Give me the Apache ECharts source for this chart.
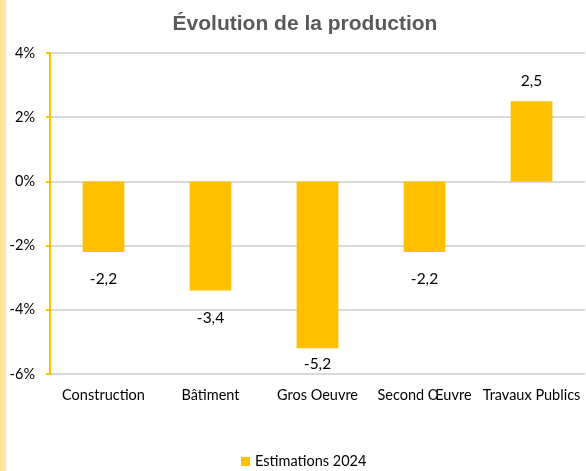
<!DOCTYPE html>
<html>
<head>
<meta charset="utf-8">
<script src="https://cdn.jsdelivr.net/npm/echarts@6/dist/echarts.min.js"></script>
<style>
  html, body { margin:0; padding:0; background:#fff; }
  #strip { position:absolute; left:0; top:0; width:6px; height:471px; background:#FFE699; }
  #chart { position:absolute; left:0; top:0; width:586px; height:471px; }
</style>
</head>
<body>
<div id="strip"></div>
<div id="chart"></div>
<script>
var categories = ['Construction', 'Bâtiment', 'Gros Oeuvre', 'Second Œuvre', 'Travaux Publics'];
var values = [-2.2, -3.4, -5.2, -2.2, 2.5];
var seriesName = 'Estimations 2024';

var myChart = echarts.init(document.getElementById('chart'));

// labels outside the bar end; the deepest one is pulled in to stay above the -6% line
var items = values.map(function (v) {
  var dist = v >= 0 ? 12 : (v < -5 ? 8 : 19);
  return { value: v, label: { position: v < 0 ? 'bottom' : 'top', distance: dist } };
});

var option = {
  animation: false,
  title: {
    text: 'Évolution de la production',
    left: 300, top: 9, textAlign: 'center',
    textStyle: { fontFamily: 'Liberation Sans', fontWeight: 'bold', fontSize: 21, color: '#595959' }
  },
  legend: {
    bottom: -3, left: 236,
    itemWidth: 9, itemHeight: 9, itemGap: 5,
    icon: 'rect',
    textStyle: { fontFamily: 'Lato', fontSize: 14.5, color: '#000' },
    data: [seriesName]
  },
  grid: { left: 50, right: 1, top: 53, bottom: 97 },
  xAxis: {
    type: 'category',
    data: categories,
    axisLine: { show: false },
    axisTick: { show: false },
    axisLabel: { interval: 0, margin: 14, fontFamily: 'Lato', fontSize: 14.5, color: '#000' }
  },
  yAxis: {
    type: 'value',
    min: -6, max: 4, interval: 2,
    axisLine: { show: true, lineStyle: { color: '#FFC000', width: 2 } },
    axisTick: { show: true, length: 4, lineStyle: { color: '#FFC000', width: 2 } },
    axisLabel: { formatter: '{value}%', margin: 15, fontFamily: 'Lato', fontSize: 14.5, color: '#000' },
    splitLine: { lineStyle: { color: '#D9D9D9', width: 2 } }
  },
  series: [{
    name: seriesName,
    type: 'bar',
    data: items,
    barWidth: '39%',
    itemStyle: { color: '#FFC000' },
    label: {
      show: true,
      fontFamily: 'Lato', fontSize: 15.5, color: '#000',
      formatter: function (p) { return String(p.value).replace('.', ','); }
    }
  }]
};
myChart.setOption(option);
</script>
</body>
</html>
